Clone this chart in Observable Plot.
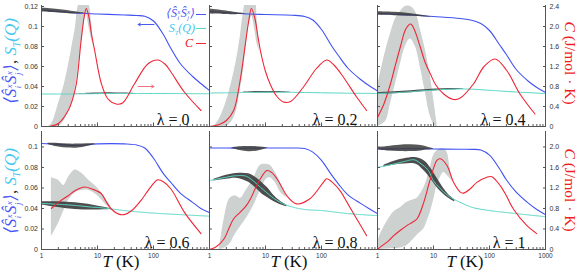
<!DOCTYPE html>
<html>
<head>
<meta charset="utf-8">
<script src="https://cdn.jsdelivr.net/npm/d3@7"></script>
<script src="https://cdn.jsdelivr.net/npm/@observablehq/plot@0.6"></script>
<style>
  body { margin: 0; background: #fff; }
  #wrap { position: relative; width: 581px; height: 275px; overflow: hidden; background: #fff; }
  .abs { position: absolute; white-space: nowrap; }
  .m { font-family: "Liberation Serif", "DejaVu Serif", serif; font-style: italic; }
  .up { font-style: normal; }
  .ss { display: inline-flex; flex-direction: column; font-size: 0.5em; line-height: 1; vertical-align: 0.45em; margin: 0 0.5px; }
  .rot { transform: translate(-50%, -50%) rotate(-90deg); }
  .rotr { transform: translate(-50%, -50%) rotate(90deg); line-height: 1; }
  .ctr { transform: translate(-50%, -50%); }
</style>
</head>
<body>
<div id="wrap">
  <div id="top" class="abs" style="left:0;top:0"></div>
  <div id="bot" class="abs" style="left:0;top:130px"></div>
</div>
<script>
// ---------------- data ----------------
const lambdas = ["0", "0.2", "0.4", "0.6", "0.8", "1"];
const leftTicksTop = [0, 0.02, 0.04, 0.06, 0.08, 0.1, 0.12];
const leftTicksBot = [0, 0.02, 0.04, 0.06, 0.08, 0.1];
const xMajor = [1, 10, 100, 1000];
const xLabelTicks = [1, 10, 100];
const xMinor = [2, 3, 4, 5, 6, 7, 8, 9, 20, 30, 40, 50, 60, 70, 80, 90, 200, 300, 400, 500, 600, 700, 800, 900];
const C_PER_UNIT = 20; // right axis C (J/mol K) = 20 x left axis

// <S^x S^x> (blue)
const T_sxx = [1, 2, 4, 10, 30, 50, 70, 100, 150, 200, 300, 500, 700, 1000];
const sxx_l0  = [0.1165, 0.115, 0.1135, 0.1125, 0.1115, 0.111, 0.1103, 0.1055, 0.092, 0.079, 0.063, 0.050, 0.043, 0.036];
const sxx_l02 = [0.115, 0.1137, 0.1127, 0.112, 0.1113, 0.110, 0.1065, 0.097, 0.081, 0.071, 0.058, 0.047, 0.041, 0.0355];
const sxx_l04 = [0.113, 0.1123, 0.1115, 0.110, 0.108, 0.106, 0.103, 0.096, 0.082, 0.072, 0.057, 0.045, 0.039, 0.034];
const sxx_l06 = [0.1034, 0.1025, 0.1015, 0.103, 0.103, 0.102, 0.099, 0.089, 0.074, 0.066, 0.055, 0.046, 0.040, 0.036];
const sxx_l08 = [0.099, 0.099, 0.0988, 0.099, 0.099, 0.0985, 0.095, 0.087, 0.073, 0.064, 0.053, 0.045, 0.040, 0.035];
const sxx_l1  = [0.098, 0.0982, 0.0985, 0.098, 0.0978, 0.0977, 0.097, 0.092, 0.079, 0.068, 0.056, 0.045, 0.039, 0.034];

// S_T(Q) (cyan)
const T_st = [1, 2, 3, 4.5, 6, 8, 10, 14, 20, 30, 50, 100, 300, 1000];
const st_l0  = [0.0325, 0.0325, 0.0325, 0.0326, 0.0327, 0.0328, 0.0329, 0.033, 0.033, 0.033, 0.033, 0.033, 0.0329, 0.0327];
const st_l02 = [0.0335, 0.0337, 0.0339, 0.034, 0.0341, 0.0342, 0.0343, 0.0343, 0.0343, 0.0342, 0.034, 0.0337, 0.0333, 0.033];
const st_l04 = [0.033, 0.0337, 0.0343, 0.035, 0.0356, 0.036, 0.0364, 0.0369, 0.0373, 0.0375, 0.0373, 0.0362, 0.0345, 0.033];
const st_l06 = [0.045, 0.044, 0.0435, 0.0427, 0.042, 0.0413, 0.041, 0.0402, 0.0392, 0.038, 0.0368, 0.0355, 0.034, 0.0325];
const st_l08 = [0.0673, 0.0705, 0.072, 0.0715, 0.067, 0.061, 0.0565, 0.050, 0.045, 0.0415, 0.039, 0.038, 0.035, 0.033];
const st_l1  = [0.080, 0.0835, 0.0858, 0.0875, 0.0835, 0.0775, 0.067, 0.058, 0.051, 0.046, 0.041, 0.038, 0.035, 0.032];

// C (red), in J/mol K
const cT_l0  = [1, 1.5, 2, 3, 3.6, 4.2, 5.1, 5.8, 6.3, 7, 7.8, 8.9, 11.7, 15.4, 21.6, 28, 45.6, 79, 119, 160, 205, 355, 705];
const c_l0   = [0, 0.01, 0.06, 0.32, 0.55, 0.86, 1.72, 2.2, 2.36, 2.2, 1.85, 1.52, 0.86, 0.55, 0.45, 0.47, 0.85, 1.25, 1.33, 1.25, 1.09, 0.69, 0.32];
const cT_l02 = [1, 1.5, 2, 2.7, 3.5, 4.37, 5, 5.6, 6.5, 7.2, 8.1, 10, 12.1, 16, 21, 28, 47.6, 80, 124, 170, 245, 424, 640];
const c_l02  = [0, 0.04, 0.12, 0.32, 0.9, 1.65, 2.1, 2.36, 2.15, 1.85, 1.52, 1.1, 0.85, 0.6, 0.49, 0.5, 0.79, 1.15, 1.33, 1.22, 0.99, 0.59, 0.32];
const cT_l04 = [1, 1.3, 1.7, 2.0, 2.57, 3.2, 3.9, 4.5, 5.8, 7, 8.8, 11, 15.2, 22.8, 30, 51.6, 80, 126, 203, 350, 650];
const c_l04  = [0.18, 0.45, 0.85, 1.15, 1.6, 1.95, 2.05, 1.95, 1.59, 1.3, 1.05, 0.83, 0.65, 0.54, 0.57, 0.85, 1.2, 1.35, 1.12, 0.65, 0.25];
const cT_l06 = [1.5, 2, 3, 4, 5.9, 8, 11.7, 14, 17.6, 24, 30, 40, 60, 80, 104, 119, 150, 205, 355, 705];
const c_l06  = [0.8, 0.92, 1.05, 1.15, 1.22, 1.18, 1.09, 0.95, 0.79, 0.69, 0.68, 0.75, 0.96, 1.15, 1.31, 1.36, 1.32, 1.18, 0.73, 0.31];
const cT_l08 = [1, 1.3, 1.8, 2.2, 2.7, 3.56, 4.5, 5.4, 6.5, 8.1, 10.6, 13, 16, 20, 24, 36, 62, 108, 124, 160, 214, 300, 424, 640];
const c_l08  = [0, 0.05, 0.2, 0.4, 0.6, 0.73, 0.85, 0.99, 1.18, 1.38, 1.54, 1.5, 1.38, 1.2, 1.05, 0.89, 0.99, 1.31, 1.38, 1.3, 1.15, 0.88, 0.6, 0.27];
const cT_l1  = [1, 1.13, 1.5, 1.95, 2.6, 3.38, 4.2, 5.1, 6.7, 8.8, 11.5, 13.2, 17.4, 22.8, 30, 34, 45, 59.5, 89.5, 110, 154, 200, 267, 462, 698];
const c_l1   = [0, 0.05, 0.15, 0.27, 0.38, 0.47, 0.53, 0.6, 0.92, 1.38, 1.74, 1.77, 1.64, 1.31, 1.12, 1.1, 1.18, 1.31, 1.41, 1.42, 1.25, 1.05, 0.79, 0.47, 0.31];

// grey uncertainty band of C (J/mol K)
const cbT_l0  = [1.4, 1.6, 2, 2.5, 3, 3.5, 4, 4.7, 5.5, 6.3, 7, 7.8, 8.6];
const cbLo_l0 = [0, 0, 0, 0.1, 0.3, 0.5, 0.75, 1.3, 1.9, 2.25, 2.0, 1.75, 1.6];
const cbHi_l0 = [0, 0.1, 0.45, 0.8, 1.2, 1.6, 1.95, 2.45, 2.5, 2.5, 2.45, 2.1, 1.6];
const cbT_l02  = [1.2, 1.5, 2, 2.5, 3, 3.5, 4, 4.5, 5, 5.7, 6.5, 7.1, 7.8];
const cbLo_l02 = [0, 0, 0, 0.1, 0.3, 0.7, 1.1, 1.6, 2.0, 2.2, 1.9, 1.65, 1.5];
const cbHi_l02 = [0, 0.15, 0.5, 0.9, 1.3, 1.75, 2.25, 2.5, 2.5, 2.5, 2.5, 2.1, 1.5];
const cbT_l04  = [1, 1.39, 1.7, 2.09, 2.57, 3.15, 3.86, 4.74, 5.8, 7.1, 8.8, 10.8, 11.7];
const cbLo_l04 = [0, 0.1, 0.45, 0.85, 1.25, 1.6, 1.75, 1.6, 1.2, 0.7, 0.2, 0, 0];
const cbHi_l04 = [0.8, 1.5, 1.85, 2.15, 2.3, 2.4, 2.4, 2.3, 1.95, 1.55, 1.0, 0.3, 0];
const cbT_l06  = [1.5, 2, 2.5, 3, 4, 5, 7, 10, 15, 18];
const cbLo_l06 = [0.25, 0.5, 0.75, 0.95, 1.1, 1.15, 1.15, 1.05, 0.85, 0.8];
const cbHi_l06 = [1.4, 1.35, 1.25, 1.4, 1.55, 1.5, 1.35, 1.2, 0.95, 0.8];
const cbT_l08  = [1.5, 1.8, 2.3, 2.9, 3.6, 4.5, 6.1, 8.1, 10.6, 12.2, 15, 18.4, 24];
const cbLo_l08 = [0, 0.02, 0.1, 0.3, 0.45, 0.6, 0.85, 1.15, 1.38, 1.4, 1.3, 1.12, 1.0];
const cbHi_l08 = [0, 0.55, 0.99, 1.05, 1.0, 1.15, 1.38, 1.64, 1.66, 1.64, 1.5, 1.31, 1.0];
const cbT_l1  = [1, 1.1, 1.95, 2.6, 3.38, 4.4, 5.1, 6.7, 7.7, 8.8, 10, 11.5, 13.2, 15.2, 17.4, 19.9, 22.8];
const cbLo_l1 = [0, 0, 0.02, 0.03, 0.08, 0.2, 0.28, 0.4, 0.55, 0.73, 0.95, 1.24, 1.4, 1.5, 1.45, 1.38, 1.31];
const cbHi_l1 = [0.1, 0.27, 0.73, 0.82, 0.92, 0.97, 1.0, 1.2, 1.38, 1.6, 1.83, 1.92, 1.96, 1.96, 1.9, 1.57, 1.31];

// dark spread around <S^x S^x>
const sbT_l0  = [1, 2, 4, 6];
const sbLo_l0 = [0.1145, 0.1135, 0.1125, 0.1132];
const sbHi_l0 = [0.1185, 0.117, 0.1148, 0.1134];
const sbT_l02  = [1, 2, 3, 4.5];
const sbLo_l02 = [0.1125, 0.112, 0.1118, 0.1124];
const sbHi_l02 = [0.1175, 0.1155, 0.114, 0.1127];
const sbT_l04  = [1, 2, 4, 7, 9];
const sbLo_l04 = [0.1112, 0.1108, 0.1102, 0.1095, 0.1093];
const sbHi_l04 = [0.1148, 0.1142, 0.1128, 0.1108, 0.1096];
const sbT_l06  = [1.3, 2, 3, 4.5, 6.5, 9];
const sbLo_l06 = [0.1025, 0.1, 0.099, 0.099, 0.1005, 0.1025];
const sbHi_l06 = [0.1035, 0.1035, 0.1028, 0.1028, 0.1032, 0.1032];
const sbT_l08  = [2.5, 3.5, 5, 7, 9, 11];
const sbLo_l08 = [0.0988, 0.0965, 0.0953, 0.0958, 0.0972, 0.0987];
const sbHi_l08 = [0.0992, 0.1002, 0.1005, 0.1003, 0.0998, 0.0991];
const sbT_l1  = [1, 1.5, 2.5, 4, 6, 8, 10];
const sbLo_l1 = [0.0972, 0.096, 0.0955, 0.0955, 0.0962, 0.0972, 0.0978];
const sbHi_l1 = [0.0992, 0.1005, 0.1018, 0.1022, 0.1015, 0.0998, 0.0984];

// dark spread around S_T(Q)
const tbT_l0  = [4, 7, 12, 20, 30, 45];
const tbLo_l0 = [0.0324, 0.0321, 0.032, 0.0321, 0.0324, 0.0328];
const tbHi_l0 = [0.0328, 0.0333, 0.0336, 0.0336, 0.0334, 0.0331];
const tbT_l02  = [4, 7, 12, 20, 27];
const tbLo_l02 = [0.0338, 0.0336, 0.0336, 0.0338, 0.0341];
const tbHi_l02 = [0.0342, 0.0349, 0.035, 0.0348, 0.0344];
const tbT_l04  = [1, 2, 4, 8, 15, 25, 35];
const tbLo_l04 = [0.0322, 0.0328, 0.0338, 0.0352, 0.0362, 0.0368, 0.0372];
const tbHi_l04 = [0.0338, 0.0347, 0.0358, 0.037, 0.0378, 0.038, 0.0376];
const tbT_l06  = [1, 2, 4, 8, 13, 18];
const tbLo_l06 = [0.0435, 0.041, 0.039, 0.0385, 0.0387, 0.039];
const tbHi_l06 = [0.0465, 0.0465, 0.0455, 0.0435, 0.0412, 0.0398];
const tbT_l08  = [1.2, 2, 3, 5, 7, 9, 11, 14, 18, 24];
const tbLo_l08 = [0.0668, 0.0685, 0.0695, 0.0655, 0.059, 0.0535, 0.0505, 0.0468, 0.044, 0.0418];
const tbHi_l08 = [0.0685, 0.0725, 0.0742, 0.0738, 0.0695, 0.0645, 0.060, 0.053, 0.0475, 0.0432];
const tbT_l1  = [1.3, 2, 3, 5, 7, 9, 11, 14, 18, 24];
const tbLo_l1 = [0.0805, 0.0825, 0.0835, 0.083, 0.076, 0.0685, 0.062, 0.0555, 0.0505, 0.0465];
const tbHi_l1 = [0.082, 0.086, 0.0885, 0.0895, 0.086, 0.079, 0.0715, 0.0625, 0.0545, 0.0485];

// annotation arrows in the λ = 0 panel (T from, T to, value)
const arrowNotes = [
  {lam: "0", t1: 102, t2: 53, v: 0.102, color: "#4a5cf0"},
  {lam: "0", t1: 53, t2: 102, v: 0.040, color: "#f07080"}
];

// ---------------- build tables ----------------
const sxxList = [sxx_l0, sxx_l02, sxx_l04, sxx_l06, sxx_l08, sxx_l1];
const stList = [st_l0, st_l02, st_l04, st_l06, st_l08, st_l1];
const cTList = [cT_l0, cT_l02, cT_l04, cT_l06, cT_l08, cT_l1];
const cList = [c_l0, c_l02, c_l04, c_l06, c_l08, c_l1];
const cb = [[cbT_l0, cbLo_l0, cbHi_l0], [cbT_l02, cbLo_l02, cbHi_l02], [cbT_l04, cbLo_l04, cbHi_l04],
            [cbT_l06, cbLo_l06, cbHi_l06], [cbT_l08, cbLo_l08, cbHi_l08], [cbT_l1, cbLo_l1, cbHi_l1]];
const sb = [[sbT_l0, sbLo_l0, sbHi_l0], [sbT_l02, sbLo_l02, sbHi_l02], [sbT_l04, sbLo_l04, sbHi_l04],
            [sbT_l06, sbLo_l06, sbHi_l06], [sbT_l08, sbLo_l08, sbHi_l08], [sbT_l1, sbLo_l1, sbHi_l1]];
const tb = [[tbT_l0, tbLo_l0, tbHi_l0], [tbT_l02, tbLo_l02, tbHi_l02], [tbT_l04, tbLo_l04, tbHi_l04],
            [tbT_l06, tbLo_l06, tbHi_l06], [tbT_l08, tbLo_l08, tbHi_l08], [tbT_l1, tbLo_l1, tbHi_l1]];

const sxxRows = lambdas.flatMap((lam, k) => T_sxx.map((T, i) => ({lam, T, v: sxxList[k][i]})));
const stRows = lambdas.flatMap((lam, k) => T_st.map((T, i) => ({lam, T, v: stList[k][i]})));
const cRows = lambdas.flatMap((lam, k) => cTList[k].map((T, i) => ({lam, T, c: cList[k][i]})));
const bandRows = (arr) => lambdas.flatMap((lam, k) => arr[k][0].map((T, i) => ({lam, T, lo: arr[k][1][i], hi: arr[k][2][i]})));
const cbRows = bandRows(cb), sbRows = bandRows(sb), tbRows = bandRows(tb);

const BLUE = "#4052f2", CYAN = "#5cd6c4", RED = "#ee2636", GREY = "#cdd1d0", DARK = "#3a3a3a", AX = "#555";
const fmtL = d => d === 0 ? "0" : String(+d.toFixed(2));
const fmtR = d => d === 0 ? "0" : (d * C_PER_UNIT).toFixed(1);

function row(lams, {yMax, height, marginTop, marginBottom, ticks, labelX}) {
  const inRow = d => lams.includes(d.lam);
  const last = lams[lams.length - 1];
  const common = {fx: "lam", x: "T", clip: true, curve: "catmull-rom"};
  return Plot.plot({
    width: 581, height, marginLeft: 40, marginRight: 35, marginTop, marginBottom,
    fx: {domain: lams, padding: 0, axis: null, label: null},
    x: {type: "log", domain: [1, 1000], label: null},
    y: {domain: [0, yMax], label: null},
    style: {background: "transparent", fontFamily: "Liberation Sans, Arial, sans-serif", fontSize: "7px", color: "#333"},
    marks: [
      Plot.areaY(cbRows.filter(inRow), {...common, y1: d => d.lo / C_PER_UNIT, y2: d => d.hi / C_PER_UNIT, fill: GREY}),
      Plot.line(sxxRows.filter(inRow), {...common, y: "v", stroke: BLUE, strokeWidth: 1.1}),
      Plot.areaY(sbRows.filter(inRow), {...common, y1: "lo", y2: "hi", fill: DARK, fillOpacity: 0.85}),
      Plot.areaY(tbRows.filter(inRow), {...common, y1: "lo", y2: "hi", fill: DARK, fillOpacity: 0.9}),
      Plot.line(stRows.filter(inRow), {...common, y: "v", stroke: CYAN, strokeWidth: 1, strokeDasharray: "1.3 0.7"}),
      Plot.line(cRows.filter(inRow), {...common, y: d => d.c / C_PER_UNIT, stroke: RED, strokeWidth: 1.1}),
      Plot.arrow(arrowNotes.filter(inRow), {fx: "lam", x1: "t1", x2: "t2", y1: "v", y2: "v", stroke: "color", strokeWidth: 1, headLength: 4}),
      Plot.ruleX([1], {stroke: AX}),
      Plot.ruleY([0], {stroke: AX}),
      Plot.ruleX([{lam: last}], {fx: "lam", x: () => 1000, stroke: AX}),
      Plot.axisX({ticks: xMinor, tickSize: -2, tickFormat: () => "", stroke: AX, label: null}),
      Plot.axisX({ticks: xMajor, tickSize: -3.5, tickFormat: () => "", stroke: AX, label: null}),
      labelX ? Plot.axisX({ticks: xLabelTicks, tickSize: 0, tickPadding: 4, fontSize: 6.5, tickFormat: d => String(d), label: null}) : null,
      labelX ? Plot.text([{lam: last}], {fx: "lam", x: () => 1000, text: () => "1000", frameAnchor: "bottom", lineAnchor: "top", dy: 4, fontSize: 6.5}) : null,
      Plot.axisY({anchor: "left", ticks, tickSize: 0, tickPadding: 3.5, tickFormat: fmtL, label: null}),
      Plot.axisY({anchor: "left", ticks, tickSize: -3, tickFormat: () => "", stroke: AX, label: null, facetAnchor: null}),
      Plot.axisY({anchor: "right", ticks, tickSize: 0, tickPadding: 4, tickFormat: fmtR, label: null}),
      Plot.axisY({anchor: "right", ticks, tickSize: -3, tickFormat: () => "", stroke: AX, label: null}),
      Plot.text(lams.map(l => ({lam: l})), {fx: "lam", frameAnchor: "bottom-right", text: d => `λ = ${d.lam}`,
        textAnchor: "end", lineAnchor: "bottom", dx: -20, dy: -2, fontSize: 16, fontFamily: "Liberation Serif, DejaVu Serif, serif", fill: "#111"})
    ]
  });
}

document.getElementById("top").append(row(lambdas.slice(0, 3), {yMax: 0.121, height: 130, marginTop: 5, marginBottom: 4, ticks: leftTicksTop, labelX: false}));
document.getElementById("bot").append(row(lambdas.slice(3), {yMax: 0.1151, height: 145, marginTop: 1, marginBottom: 26, ticks: leftTicksBot, labelX: true}));

// ---------------- text labels (HTML) ----------------
const wrap = document.getElementById("wrap");
function addHTML(html, style, cls) {
  const d = document.createElement("div");
  d.className = "abs " + (cls || "");
  d.setAttribute("style", style);
  d.innerHTML = html;
  wrap.append(d);
}
const sxxLabel = `⟨Ŝ<span class="ss"><span>x</span><span>i</span></span>Ŝ<span class="ss"><span>x</span><span>j</span></span>⟩`;
const stLabel = `S<sub style="font-size:0.55em">T</sub>(Q)`;
const yLabel = `<span style="color:#4a55f5">${sxxLabel}</span><span class="up" style="color:#333">, </span><span style="color:#45c8ee">${stLabel}</span>`;
addHTML(yLabel, "left:11px;top:61px;font-size:17px;", "m rot");
addHTML(yLabel, "left:11px;top:191px;font-size:17px;", "m rot");
const cLabel = `<span style="color:#ee1c24">C <span class="up">(J/mol · K)</span></span>`;
addHTML(cLabel, "left:570px;top:63px;font-size:15.5px;", "m rotr");
addHTML(cLabel, "left:570px;top:190px;font-size:15.5px;", "m rotr");
[121, 289, 465].forEach(x => addHTML(`T <span class="up">(K)</span>`, `left:${x}px;top:262px;font-size:17px;color:#111;`, "m ctr"));

// legend in the λ = 0 panel
addHTML(`<span style="color:#4a55f5">${sxxLabel}</span>`, "right:386px;top:5px;font-size:12px;line-height:16px;", "m");
addHTML(`<span style="color:#45c8ee">${stLabel}</span>`, "right:386px;top:20px;font-size:12px;line-height:16px;", "m");
addHTML(`<span style="color:#ee1c24">C</span>`, "right:388px;top:35px;font-size:12px;line-height:16px;", "m");
addHTML("", "left:196px;top:14px;width:10px;border-top:1px solid #4a55f5;height:0", "");
addHTML("", "left:196px;top:28px;width:10px;border-top:1px solid #5cd6c4;height:0", "");
addHTML("", "left:196px;top:43px;width:10px;border-top:1px solid #ee2636;height:0", "");
</script>
</body>
</html>
